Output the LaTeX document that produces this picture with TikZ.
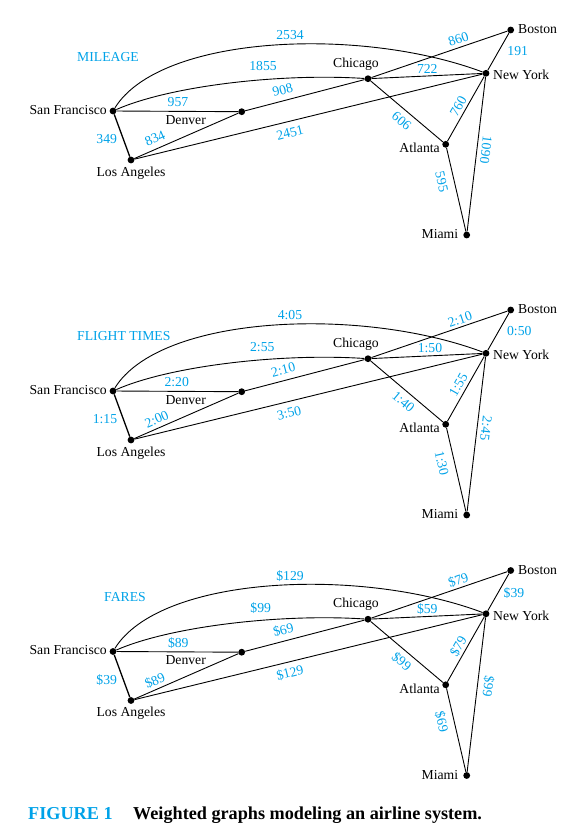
\documentclass[tikz,border=0pt]{standalone}
\usepackage{fontspec}
\setmainfont{Liberation Serif}
\definecolor{wblue}{RGB}{0,162,232}
\tikzset{
  city/.style={circle, fill=black, inner sep=0pt, minimum size=6.8pt},
  cityname/.style={font=\fontsize{13.7}{16}\selectfont, inner sep=0pt, text=black},
  weight/.style={font=\fontsize{13.7}{16}\selectfont, inner sep=0pt, text=wblue},
  heading/.style={font=\fontsize{13.7}{16}\selectfont, inner sep=0pt, text=wblue, anchor=west},
  route/.style={line width=0.9pt},
  shortroute/.style={line width=1.3pt},
}
% one airline network; #1 is the prefix for the node names
\newcommand{\network}[1]{%
  \node[city] (#1sf)  at (113,111)   {};
  \node[city] (#1la)  at (131,160)   {};
  \node[city] (#1den) at (241.7,111.7) {};
  \node[city] (#1chi) at (368,78.7)  {};
  \node[city] (#1bos) at (510.7,30)  {};
  \node[city] (#1ny)  at (486,73.3)  {};
  \node[city] (#1atl) at (445.7,144.3) {};
  \node[city] (#1mia) at (466.7,235) {};
  \draw[shortroute] (#1sf) -- (#1la);
  \draw[route] (#1sf) -- (#1den);
  \draw[route] (#1la) -- (#1den);
  \draw[route] (#1la) -- (#1ny);
  \draw[route] (#1den) -- (#1chi);
  \draw[route] (#1chi) -- (#1bos);
  \draw[route] (#1chi) -- (#1ny);
  \draw[route] (#1chi) -- (#1atl);
  \draw[route] (#1bos) -- (#1ny);
  \draw[route] (#1ny) -- (#1atl);
  \draw[route] (#1ny) -- (#1mia);
  \draw[route] (#1atl) -- (#1mia);
  \draw[route] (#1sf) .. controls (170,86) and (280,73) .. (#1chi);
  \draw[route] (#1sf) .. controls (160,35) and (360,26) .. (#1ny);
  \node[cityname, anchor=east] (#1sfname)  at (107,110)   {San Francisco};
  \node[cityname]              (#1laname)  at (131,173)   {Los Angeles};
  \node[cityname]              (#1denname) at (185.7,120) {Denver};
  \node[cityname]              (#1chiname) at (356,64)    {Chicago};
  \node[cityname, anchor=west] (#1bosname) at (518,29.3)  {Boston};
  \node[cityname, anchor=west] (#1nyname)  at (493,75)    {New York};
  \node[cityname, anchor=east] (#1atlname) at (440,148.3) {Atlanta};
  \node[cityname, anchor=east] (#1mianame) at (458.3,234.3) {Miami};
}
% weight of a route: name, position, angle, text
\newcommand{\wt}[4]{\node[weight, rotate=#3] (#1) at (#2) {#4};}

\begin{document}
\begin{tikzpicture}[x=1pt, y=-1pt]
\useasboundingbox (0,0) rectangle (588,834);

% mileage
\begin{scope}
  \network{m}
  \node[heading] (mtitle) at (77,57) {MILEAGE};
  \wt{m-sfny}{290,35}{0}{2534}
  \wt{m-sfchi}{263,66.5}{0}{1855}
  \wt{m-sfden}{178,101.7}{0}{957}
  \wt{m-denchi}{282.7,90}{15}{908}
  \wt{m-laden}{155,138.3}{24}{834}
  \wt{m-sfla}{106.7,139}{0}{349}
  \wt{m-lany}{290,133}{14}{2451}
  \wt{m-chibos}{458.3,39.3}{19}{860}
  \wt{m-chiny}{427.3,69.3}{0}{722}
  \wt{m-bosny}{517.7,51}{0}{191}
  \wt{m-nyatl}{458.3,106}{60}{760}
  \wt{m-chiatl}{401.7,121}{-40}{606}
  \wt{m-nymia}{486,150}{-97}{1090}
  \wt{m-atlmia}{441.7,181.7}{-77}{595}
\end{scope}

% flight times
\begin{scope}[shift={(0,280)}]
  \network{t}
  \node[heading] (ttitle) at (77,56) {FLIGHT TIMES};
  \wt{t-sfny}{290,35}{0}{4:05}
  \wt{t-sfchi}{262.3,67}{0}{2:55}
  \wt{t-sfden}{176.7,101.7}{0}{2:20}
  \wt{t-denchi}{283.3,90}{15}{2:10}
  \wt{t-laden}{156.7,139.3}{24}{2:00}
  \wt{t-sfla}{105,139}{0}{1:15}
  \wt{t-lany}{289,133}{14}{3:50}
  \wt{t-chibos}{460,39.3}{19}{2:10}
  \wt{t-chiny}{430,68.3}{0}{1:50}
  \wt{t-bosny}{519.3,51}{0}{0:50}
  \wt{t-nyatl}{458.3,105}{60}{1:55}
  \wt{t-chiatl}{403.3,121.7}{-40}{1:40}
  \wt{t-nymia}{486,148.3}{-97}{2:45}
  \wt{t-atlmia}{441.7,183.3}{-77}{1:30}
\end{scope}

% fares
\begin{scope}[shift={(0,540.5)}]
  \network{f}
  \node[heading] (ftitle) at (104,56.5) {FARES};
  \wt{f-sfny}{290,35.5}{0}{\$129}
  \wt{f-sfchi}{260.7,67.3}{0}{\$99}
  \wt{f-sfden}{178.3,102.8}{0}{\$89}
  \wt{f-denchi}{283.3,89.5}{15}{\$69}
  \wt{f-laden}{155,140.2}{24}{\$89}
  \wt{f-sfla}{106.7,139.5}{0}{\$39}
  \wt{f-lany}{290,132.5}{14}{\$129}
  \wt{f-chibos}{458.3,39.5}{19}{\$79}
  \wt{f-chiny}{427.3,68.8}{0}{\$59}
  \wt{f-bosny}{514,52.2}{0}{\$39}
  \wt{f-nyatl}{458.3,105.5}{60}{\$79}
  \wt{f-chiatl}{401.7,121.2}{-40}{\$99}
  \wt{f-nymia}{488.3,146.2}{-97}{\$99}
  \wt{f-atlmia}{441.7,181.2}{-77}{\$69}
\end{scope}

\node[anchor=west, inner sep=0pt, font=\fontsize{18.2}{20}\selectfont\bfseries] (caption) at (28,815)
  {\textcolor{wblue}{FIGURE 1}\hspace{1.13em}Weighted graphs modeling an airline system.};
\end{tikzpicture}
\end{document}
